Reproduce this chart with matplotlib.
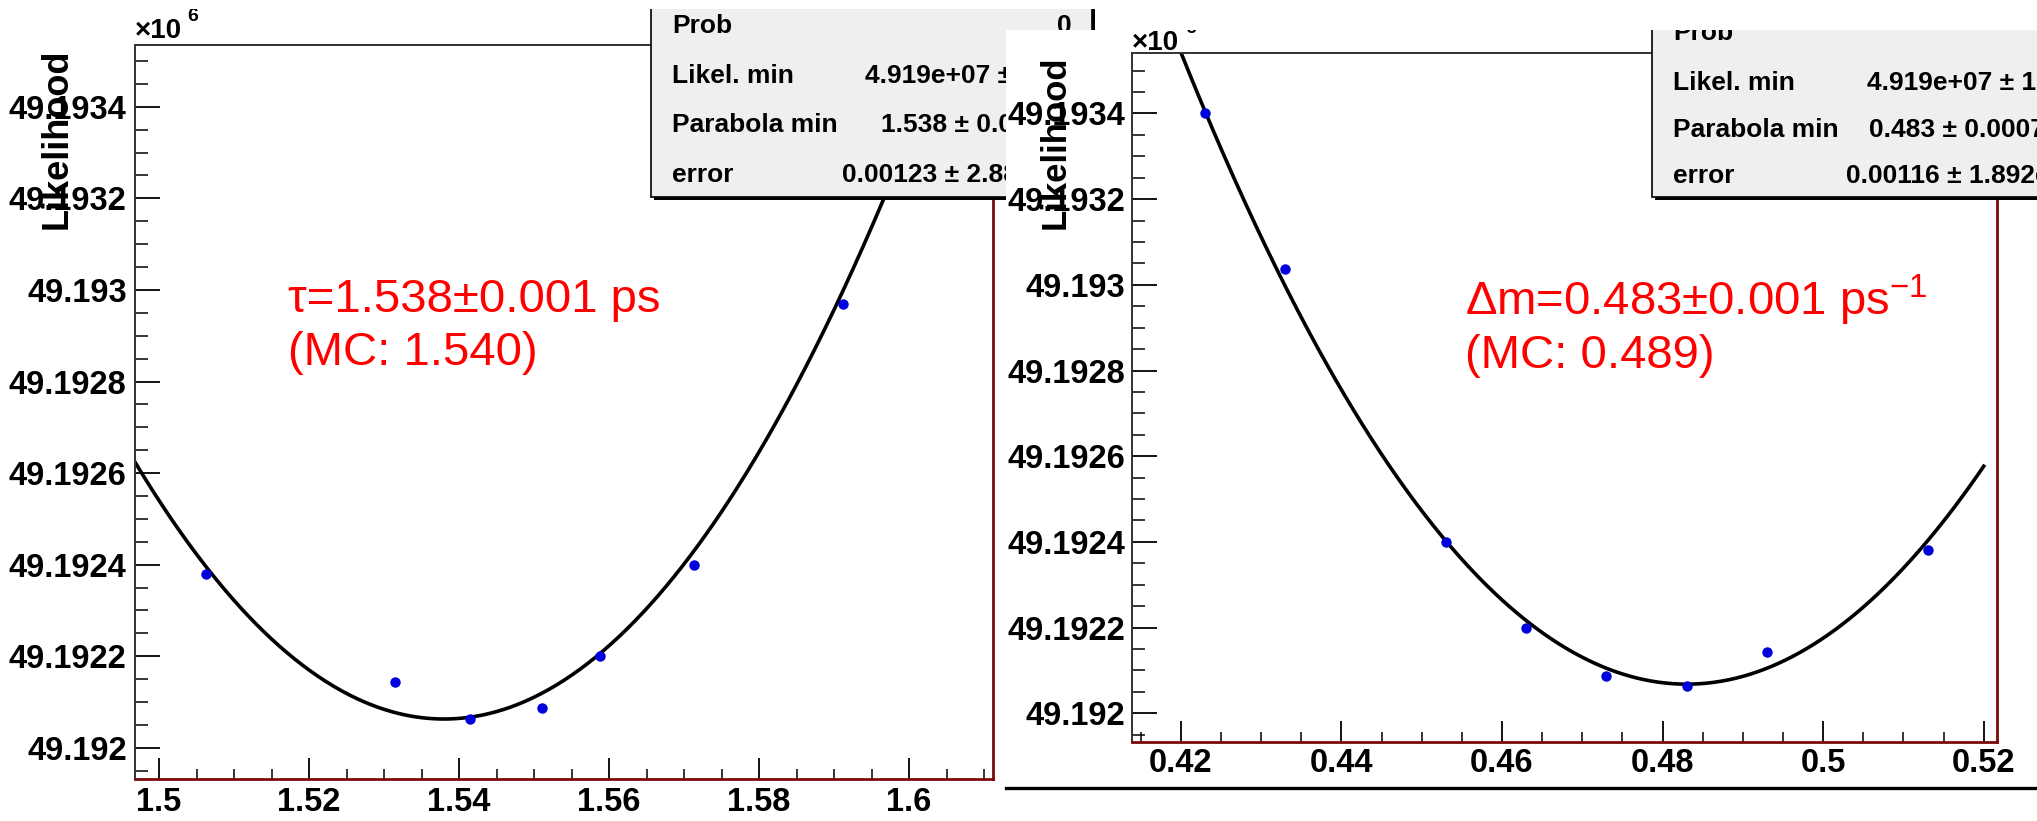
import numpy as np
import matplotlib
matplotlib.use('Agg')
import matplotlib.pyplot as plt
from matplotlib.patches import Rectangle
from matplotlib.lines import Line2D
from matplotlib.ticker import MultipleLocator, FuncFormatter
from matplotlib.transforms import Bbox, TransformedBbox

plt.rcParams['font.family'] = ['Liberation Sans', 'DejaVu Sans']
plt.rcParams['font.weight'] = 'bold'
plt.rcParams['mathtext.default'] = 'regular'

# --- data (likelihood in units of 10^6) ---
tau_x = [1.5063, 1.5315, 1.5414, 1.5511, 1.5588, 1.5713, 1.5912]
tau_L = [49.19238, 49.192144, 49.192062, 49.192087, 49.1922, 49.1924, 49.19297]
# parabola fit: minimum position, error, likelihood at minimum
tau_fit = (1.538, 0.00123, 49.192063)

dm_x = [0.423, 0.433, 0.453, 0.463, 0.473, 0.483, 0.493, 0.513]
dm_L = [49.1934, 49.193036, 49.1924, 49.1922, 49.192088, 49.192064, 49.192144, 49.192381]
dm_fit = (0.483, 0.00116, 49.192068)

tau_stats = [('Prob', '0'), ('Likel. min', '4.919e+07 ±'),
             ('Parabola min', '1.538 ± 0.00'), ('error', '0.00123 ± 2.88')]
dm_stats = [('Prob', ''), ('Likel. min', '4.919e+07 ± 12'),
            ('Parabola min', '0.483 ± 0.0007'), ('error', '0.00116 ± 1.892e')]

W, H = 2037, 821
fig = plt.figure(figsize=(W / 100, H / 100), dpi=100)


def fx(p):
    return p / W


def fy(p):
    return 1 - p / H


def rect(l, t, r, b):
    return [fx(l), fy(b), (r - l) / W, (b - t) / H]


def parabola(x, x0, err, lmin):
    return lmin + 0.5 * ((x - x0) / err) ** 2 / 1e6


def style_axes(ax, xlim, ylim, xpad, ypad):
    ax.set_xlim(*xlim)
    ax.set_ylim(*ylim)
    ax.xaxis.set_major_locator(MultipleLocator(0.02))
    ax.xaxis.set_minor_locator(MultipleLocator(0.005))
    ax.yaxis.set_major_locator(MultipleLocator(0.0002))
    ax.yaxis.set_minor_locator(MultipleLocator(0.00005))
    fmt = FuncFormatter(lambda v, p: '%g' % round(v, 6))
    ax.xaxis.set_major_formatter(fmt)
    ax.yaxis.set_major_formatter(fmt)
    ax.tick_params(axis='y', which='major', direction='in', length=18, width=1.3,
                   labelsize=23.5, pad=ypad, right=False)
    ax.tick_params(axis='y', which='minor', direction='in', length=9, width=1.1, right=False)
    ax.tick_params(axis='x', which='major', direction='in', length=15, width=1.3,
                   labelsize=23.5, pad=xpad, top=False)
    ax.tick_params(axis='x', which='minor', direction='in', length=7.5, width=1.1, top=False)
    ax.spines['left'].set_color('#333333')
    ax.spines['top'].set_color('#333333')
    ax.spines['left'].set_linewidth(1.4)
    ax.spines['top'].set_linewidth(1.4)
    ax.spines['right'].set_color('#7a0a0a')
    ax.spines['bottom'].set_color('#7a0a0a')
    ax.spines['right'].set_linewidth(2)
    ax.spines['bottom'].set_linewidth(2)


def stats_box(left, right, top, bottom, rows, label_x, value_xs, baselines, z, clip=None):
    arts = []
    arts.append(Rectangle((fx(left + 3), fy(bottom + 3)), (right - left) / W, (bottom - top) / H,
                          transform=fig.transFigure, facecolor='black', edgecolor='none', zorder=z))
    arts.append(Rectangle((fx(left), fy(bottom)), (right - left) / W, (bottom - top) / H,
                          transform=fig.transFigure, facecolor='#efefef', edgecolor='black',
                          lw=1.2, zorder=z + 0.1))
    for a in arts:
        fig.add_artist(a)
    for (lab, val), vx, yb in zip(rows, value_xs, baselines):
        t1 = fig.text(fx(label_x), fy(yb), lab, fontsize=19, va='baseline', zorder=z + 0.2)
        arts.append(t1)
        if val:
            ha = 'right' if val == '0' else 'left'
            t2 = fig.text(fx(vx), fy(yb), val, fontsize=19, va='baseline', ha=ha, zorder=z + 0.2)
            arts.append(t2)
    if clip is not None:
        for a in arts:
            a.set_clip_box(clip)
            a.set_clip_on(True)


# ---------------- left panel ----------------
ax1 = fig.add_axes(rect(135, 45, 993, 779), zorder=0)
xs1 = np.linspace(1.49, 1.62, 500)
ax1.plot(xs1, parabola(xs1, *tau_fit), color='black', lw=2.6)
ax1.plot(tau_x, tau_L, 'o', color='#0000dd', ms=7.5, mec='none')
style_axes(ax1, (1.4968, 1.6112), (49.191932, 49.193535), xpad=6, ypad=6)

fig.text(fx(57), fy(139), 'Likelihood', rotation=90, ha='center', va='center',
         fontsize=26, zorder=3)
fig.text(fx(135), fy(38), '×10', fontsize=20, va='baseline', zorder=3)
fig.text(fx(187), fy(21), '6', fontsize=14, va='baseline', zorder=3)

fig.text(fx(288), fy(312), 'τ=1.538±0.001 ps', color='red', fontsize=34,
         fontweight='normal', va='baseline', zorder=3)
fig.text(fx(288), fy(365), '(MC: 1.540)', color='red', fontsize=34,
         fontweight='normal', va='baseline', zorder=3)

stats_box(651, 1092, -10, 197, tau_stats, 672, [1072, 865, 881, 842],
          [33, 83, 132, 182], z=3.5)

# ---------------- right panel (pasted over) ----------------
clip2 = TransformedBbox(Bbox.from_extents(fx(1006), fy(790), 1.0, fy(30)), fig.transFigure)
fig.add_artist(Rectangle((fx(1006), fy(790)), 1 - fx(1006), (790 - 30) / H,
                         transform=fig.transFigure, facecolor='white', edgecolor='none', zorder=5))
fig.add_artist(Line2D([fx(1006), 1.0], [fy(788), fy(788)], transform=fig.transFigure,
                      color='black', lw=2.4, zorder=5.5))

ax2 = fig.add_axes(rect(1132, 53, 1997, 742), zorder=6)
ax2.set_facecolor('none')
xs2 = np.linspace(0.41, 0.52, 500)
ax2.plot(xs2, parabola(xs2, *dm_fit), color='black', lw=2.6)
ax2.plot(dm_x, dm_L, 'o', color='#0000dd', ms=7.5, mec='none')
style_axes(ax2, (0.41392, 0.52165), (49.191933, 49.193541), xpad=4, ypad=5)

fig.text(fx(1055), fy(142), 'Likelihood', rotation=90, ha='center', va='center',
         fontsize=25, zorder=7)
t = fig.text(fx(1132), fy(50), '×10', fontsize=20, va='baseline', zorder=7)
t.set_clip_box(clip2)
t.set_clip_on(True)
t = fig.text(fx(1185), fy(33), '6', fontsize=14, va='baseline', zorder=7)
t.set_clip_box(clip2)
t.set_clip_on(True)

fig.text(fx(1465), fy(315), 'Δm=0.483±0.001 ps$^{-1}$', color='red', fontsize=34,
         fontweight='normal', va='baseline', zorder=7)
fig.text(fx(1465), fy(368), '(MC: 0.489)', color='red', fontsize=34,
         fontweight='normal', va='baseline', zorder=7)

stats_box(1652, 2120, -10, 197, dm_stats, 1673, [0, 1867, 1869, 1846],
          [40, 90, 137, 183], z=7.5, clip=clip2)

# white strip at the very top of the screenshot
fig.add_artist(Rectangle((0, fy(9)), 1, 9 / H, transform=fig.transFigure,
                         facecolor='white', edgecolor='none', zorder=20))

fig.savefig('out.png', dpi=100)
